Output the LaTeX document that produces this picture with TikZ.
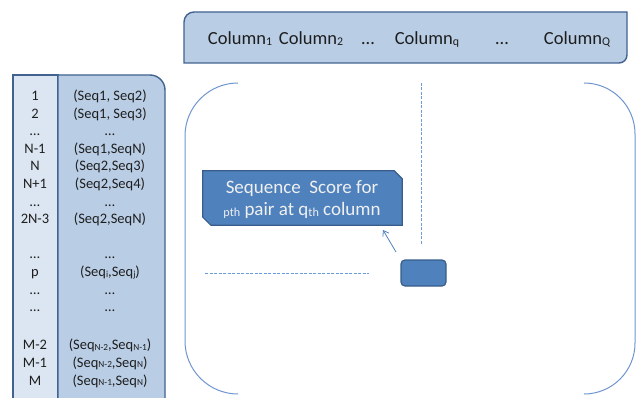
\documentclass[tikz,border=0pt]{standalone}
\usepackage{fontspec}
\setmainfont{Carlito}
\usepackage{graphicx}
\usetikzlibrary{arrows.meta}
\definecolor{midfill}{HTML}{B9CDE5}
\definecolor{lightfill}{HTML}{DCE6F2}
\definecolor{boxline}{HTML}{41628F}
\definecolor{darkblue}{HTML}{4F81BD}
\definecolor{dashcol}{HTML}{6A9BDB}
\definecolor{darkline}{HTML}{385D8A}
\definecolor{bracketcol}{HTML}{6F95CE}
\definecolor{txt}{HTML}{1E1E1E}
\newcommand{\lowtxt}[1]{\raisebox{-0.6pt}{\scalebox{0.64}{#1}}}
\tikzset{
  boxstyle/.style={draw=boxline, line width=1.4pt},
  tabtxt/.style={anchor=base, inner sep=0pt, text=txt, font=\fontsize{14.5pt}{17pt}\selectfont},
  headtxt/.style={anchor=base, inner sep=0pt, text=txt, font=\fontsize{18.5pt}{22pt}\selectfont},
  calltxt/.style={anchor=base, inner sep=0pt, text=white!94!black, font=\fontsize{19pt}{23pt}\selectfont},
  bracket/.style={draw=bracketcol, line width=1pt},
  dashline/.style={draw=dashcol, line width=1pt, dash pattern=on 3pt off 1.5pt},
  cellbox/.style={draw=darkline, fill=darkblue, line width=1.2pt, rounded corners=4pt, minimum width=45pt, minimum height=26pt, inner sep=0pt},
  calloutstyle/.style={draw=darkline, fill=darkblue, line width=1.2pt},
  pointer/.style={draw=darkblue, line width=0.8pt, -{Straight Barb[length=5pt,width=7pt]}}
}
\begin{document}
\begin{tikzpicture}[x=1pt,y=-1pt]
\useasboundingbox (0,0) rectangle (636,398);
\clip (0,0) rectangle (636,398);

% header box
\draw[boxstyle, fill=midfill] (184,63) [rounded corners=10pt] -- (184,12) [sharp corners] -- (627,12) [rounded corners=8pt] -- (627,63) [sharp corners] -- cycle;
\node[headtxt] (c1) at (240,45) {Column\lowtxt{1}};
\node[headtxt] (c2) at (311,45) {Column\lowtxt{2}};
\node[headtxt] (c3) at (368,45) {…};
\node[headtxt] (c4) at (427,45) {Column\lowtxt{q}};
\node[headtxt] (c5) at (502,45) {…};
\node[headtxt] (c6) at (577,45) {Column\lowtxt{Q}};

% table
\draw[boxstyle, fill=lightfill] (13,75) rectangle (58,405);
\draw[boxstyle, fill=midfill] (58,405) -- (58,75) [rounded corners=15pt] -- (165,75) [sharp corners] -- (165,405) -- cycle;

\foreach \nm/\yy/\lt/\rt in {
  r1/100.5/1/{(Seq1, Seq2)},
  r2/118.1/2/{(Seq1, Seq3)},
  r3/135.7/…/…,
  r4/153.3/N-1/{(Seq1,SeqN)},
  r5/170.9/N/{(Seq2,Seq3)},
  r6/188.5/N+1/{(Seq2,Seq4)},
  r7/206.1/…/…,
  r8/223.7/2N-3/{(Seq2,SeqN)},
  r9/258.9/…/…,
  r10/276.5/p/{(Seq\lowtxt{i},Seq\lowtxt{j})},
  r11/294.1/…/…,
  r12/311.7/…/…,
  r13/349.5/M-2/{(Seq\lowtxt{N-2},Seq\lowtxt{N-1})},
  r14/367.3/M-1/{(Seq\lowtxt{N-2},Seq\lowtxt{N})},
  r15/385/M/{(Seq\lowtxt{N-1},Seq\lowtxt{N})}}
{
  \node[tabtxt] (\nm l) at (35,\yy) {\lt};
  \node[tabtxt] (\nm r) at (110,\yy) {\rt};
}

% brackets
\draw[bracket, rounded corners=53pt] (238,83) -- (185,83) -- (185,394) -- (238,394);
\draw[bracket, rounded corners=51pt] (584,83) -- (635,83) -- (635,394) -- (584,394);

% dashed guides
\coordinate (vtop) at (421,83);
\coordinate (vbot) at (421,245);
\coordinate (hl) at (205,273);
\coordinate (hr) at (369,273);
\draw[dashline] (vtop) -- (vbot);
\draw[dashline] (hl) -- (hr);

% cell
\node[cellbox] (cell) at (423.5,273) {};

% callout
\node[minimum width=199pt, minimum height=54pt, inner sep=0pt] (callout) at (302.5,198) {};
\draw[calloutstyle] (callout.north west) -- ([xshift=-8pt]callout.north east) -- ([yshift=-8pt]callout.north east) -- (callout.south east) -- ([xshift=8pt]callout.south west) -- ([yshift=8pt]callout.south west) -- cycle;
\node[calltxt] (t1) at (302,193) {Sequence\ \ Score for};
\node[calltxt] (t2) at (302,215.5) {\lowtxt{pth} pair at q\lowtxt{th} column};

% pointer
\coordinate (ps) at (396,252);
\coordinate (pe) at (383,230);
\draw[pointer] (ps) -- (pe);
\end{tikzpicture}
\end{document}
